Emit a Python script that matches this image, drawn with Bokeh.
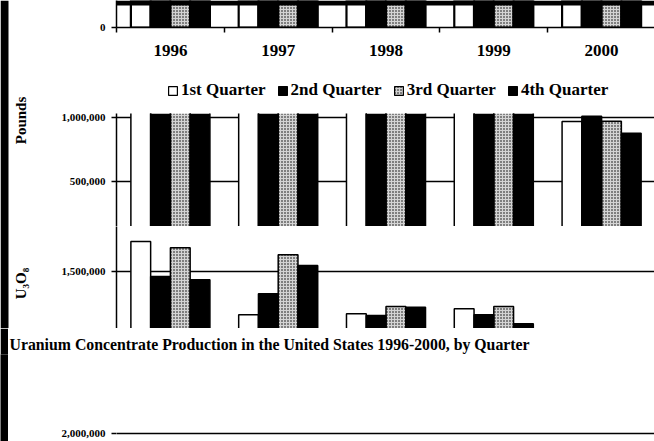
import numpy as np
from bokeh.plotting import figure
from bokeh.models import (Range1d, FixedTicker, NumeralTickFormatter, Title,
                          Legend, LegendItem, ColumnDataSource, LinearAxis,
                          BoxAnnotation, Label)
from bokeh.layouts import column, row
from bokeh.embed import file_html
from bokeh.resources import INLINE
from bokeh.transform import dodge

# ---------------- data ----------------
years = ["1996", "1997", "1998", "1999", "2000"]
quarters = ["1st Quarter", "2nd Quarter", "3rd Quarter", "4th Quarter"]
q1 = [1736000, 1160000, 1168000, 1207000, 971000]
q2 = [1461000, 1325000, 1155000, 1160000, 1013000]
q3 = [1686000, 1631000, 1225000, 1225000, 973000]
q4 = [1435000, 1547000, 1220000, 1089000, 879000]
y_ticks = [0, 500000, 1000000, 1500000, 2000000]
title_text = "Uranium Concentrate Production in the United States 1996-2000, by Quarter"
y_label_top = "Pounds"
y_label_bottom = "U\u2083O\u2088"

# ---------------- geometry / style ----------------
BAND = 8                   # black scan edge on the left
SIDE = 34                  # width of the left label column (top part)
CAT_PX = 107.8             # pixels per year category
FRAME_X = 116              # page x of the plot frames
PX_PER_UNIT = 127.3 / 1e6  # pixels per pound
FONT = "Liberation Serif"
BAR_W = 0.1833
OFFSETS = [-1.5 * BAR_W, -0.5 * BAR_W, 0.5 * BAR_W, 1.5 * BAR_W]
STYLES = [
    dict(fill_color="white"),
    dict(fill_color="black"),
    dict(fill_color="#d4d4d4", hatch_pattern=".", hatch_color="black",
         hatch_scale=3, hatch_weight=1),
    dict(fill_color="black"),
]
X_END = (654 - FRAME_X) / CAT_PX

centers = np.arange(len(years)) + 0.5
bounds = list(np.arange(len(years) + 1).astype(float))
series_vals = [q1, q2, q3, q4]
source = ColumnDataSource(dict(x=list(centers), q1=q1, q2=q2, q3=q3, q4=q4))
series = ["q1", "q2", "q3", "q4"]

# outline paths (left edge, top, right edge) for every bar, from the data
out_xs, out_ys = [], []
for vals, off in zip(series_vals, OFFSETS):
    for c, v in zip(centers, vals):
        xl, xr = c + off - BAR_W / 2, c + off + BAR_W / 2
        out_xs.append([xl, xl, xr, xr])
        out_ys.append([0, v, v, 0])
outline_src = ColumnDataSource(dict(xs=out_xs, ys=out_ys))


def strip(x0, height, frame_top, frame_bottom, anchor_px, anchor_val,
          border_top=0, border_bottom=0, grid=True, stroke=None, bars=True):
    top_val = anchor_val + (anchor_px - frame_top) * 1.0 / PX_PER_UNIT
    bot_val = anchor_val - (frame_bottom - anchor_px) * 1.0 / PX_PER_UNIT
    p = figure(width=654 - x0, height=height, output_backend="svg",
               toolbar_location=None, x_axis_location=None,
               x_range=Range1d(0, X_END),
               y_range=Range1d(bot_val, top_val),
               min_border_left=FRAME_X - x0, min_border_right=0,
               min_border_top=border_top, min_border_bottom=border_bottom)
    p.outline_line_color = None
    p.background_fill_color = "white"
    p.border_fill_color = "white"
    ticks = [t for t in y_ticks if bot_val - 1 <= t <= top_val + 1]
    p.yaxis.ticker = FixedTicker(ticks=ticks)
    p.yaxis.formatter = NumeralTickFormatter(format="0,0")
    p.yaxis.axis_line_color = "black"
    p.yaxis.axis_line_width = 1.5
    p.yaxis.major_tick_out = 5
    p.yaxis.major_tick_in = 0
    p.yaxis.major_tick_line_width = 1.5
    p.yaxis.minor_tick_line_color = None
    p.yaxis.major_label_standoff = 6
    p.yaxis.major_label_text_font = FONT
    p.yaxis.major_label_text_font_style = "bold"
    p.yaxis.major_label_text_font_size = "11px"
    p.yaxis.major_label_text_color = "black"
    p.xgrid.visible = False
    if grid:
        p.ygrid.ticker = FixedTicker(ticks=ticks)
        p.ygrid.grid_line_color = "black"
        p.ygrid.grid_line_width = 1.4
    else:
        p.ygrid.visible = False
    if bars:
        for s, off, st in zip(series, OFFSETS, STYLES):
            p.vbar(x=dodge("x", off, range=p.x_range), top=s, bottom=0,
                   width=BAR_W, source=source,
                   line_color="black" if stroke else None,
                   line_width=stroke or 1, **st)
        if not stroke:
            p.multi_line(xs="xs", ys="ys", source=outline_src,
                         line_color="black", line_width=1.5)
    return p


# ---- strip A : bottom of bars, x axis with the years  (page y 0-80) ----
pA = strip(SIDE, 80, 0, 27, 27, 0, border_bottom=53, grid=False, stroke=2.2)
pA.add_layout(BoxAnnotation(bottom=(27 - 5) / PX_PER_UNIT, fill_color="black",
                            fill_alpha=1, line_color=None))
xa = LinearAxis()
xa.ticker = FixedTicker(ticks=list(centers), minor_ticks=bounds)
xa.major_label_overrides = {float(c): y for c, y in zip(centers, years)}
xa.axis_line_color = "black"
xa.axis_line_width = 1.5
xa.major_tick_out = 0
xa.major_tick_in = 0
xa.minor_tick_out = 5
xa.minor_tick_in = 0
xa.minor_tick_line_width = 1.5
xa.minor_tick_line_color = "black"
xa.major_label_standoff = 12
xa.major_label_text_font = FONT
xa.major_label_text_font_style = "bold"
xa.major_label_text_font_size = "17px"
xa.major_label_text_color = "black"
pA.add_layout(xa, "below")

# ---- legend row (page y 80-100); glyphs come from hidden copies of the bars ----
pL = figure(width=654 - SIDE, height=20, output_backend="svg", toolbar_location=None,
            x_axis_location=None, y_axis_location=None, min_border=0,
            x_range=Range1d(0, 1), y_range=Range1d(0, 1))
pL.outline_line_color = None
pL.grid.visible = False
leg_r = []
for s, st in zip(series, STYLES):
    r = pL.vbar(x="x", top=s, width=0.1, source=source,
                line_color="black", line_width=1.2, **st)
    r.visible = False
    leg_r.append(r)
legend = Legend(items=[LegendItem(label=q, renderers=[r]) for q, r in zip(quarters, leg_r)],
                orientation="horizontal", location=(167 - FRAME_X, 0))
legend.label_text_font = FONT
legend.label_text_font_style = "bold"
legend.label_text_font_size = "17px"
legend.label_text_color = "black"
legend.label_height = 20
legend.glyph_width = 11
legend.glyph_height = 11
legend.label_standoff = 3
legend.spacing = 11
legend.padding = 0
legend.margin = 0
legend.border_line_color = None
legend.background_fill_alpha = 0
pL.add_layout(legend)

# ---- strip B : ~150k .. 1.03M  (page y 100-226) ----
pB = strip(SIDE, 226 - 100, 113, 226, 117.3, 1000000, border_top=113 - 100)

# ---- strip C : 1.05M .. 1.85M  (page y 226-328) ----
pC = strip(SIDE, 328 - 226, 226, 328, 271, 1500000)

# ---- left column: scan edge and the rotated axis title (page y 0-328) ----
side = figure(width=SIDE, height=328, output_backend="svg", toolbar_location=None,
              x_axis_location=None, y_axis_location=None, min_border=0,
              x_range=Range1d(0, SIDE), y_range=Range1d(328, 0))
side.outline_line_color = None
side.grid.visible = False
side.add_layout(BoxAnnotation(right=BAND, fill_color="black", fill_alpha=1,
                              line_color=None))
for txt, yc in ((y_label_top, 120), (y_label_bottom, 283)):
    side.add_layout(Label(x=20, y=yc, text=txt, angle=np.pi / 2,
                          text_align="center", text_baseline="middle",
                          text_font=FONT, text_font_style="bold",
                          text_font_size="15px", text_color="black"))

# ---- bottom: chart title and the 2,000,000 line  (page y 328-441) ----
pE = strip(BAND, 441 - 328, 354, 441, 433, 2000000, border_top=354 - 328,
           bars=False)
pE.yaxis.axis_line_color = None
pE.add_layout(Title(text=title_text, align="left", offset=-(FRAME_X - BAND) + 1,
                    standoff=3, text_font=FONT, text_font_style="bold",
                    text_font_size="15.8px", text_color="black"), "above")

band = figure(width=BAND, height=441 - 328, output_backend="svg", toolbar_location=None,
              x_axis_location=None, y_axis_location=None, min_border=0,
              x_range=Range1d(0, 1), y_range=Range1d(0, 1))
band.background_fill_color = "black"
band.border_fill_color = "black"
band.outline_line_color = None
band.grid.visible = False

top = row(side, column(pA, pL, pB, pC, spacing=0), spacing=0)
bottom = row(band, pE, spacing=0)
layout = column(top, bottom, spacing=0)
open("out.html", "w").write(file_html(layout, INLINE))
